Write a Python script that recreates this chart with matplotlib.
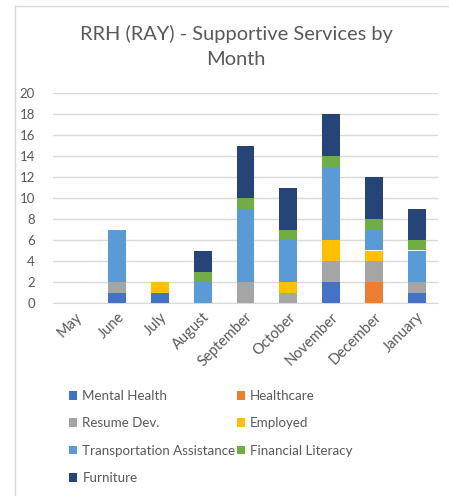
import matplotlib.pyplot as plt
import numpy as np

# months and service counts
months = ['May', 'June', 'July', 'August', 'September', 'October',
          'November', 'December', 'January']

mental_health = [0, 1, 1, 0, 0, 0, 2, 0, 1]
healthcare = [0, 0, 0, 0, 0, 0, 0, 2, 0]
resume_dev = [0, 1, 0, 0, 2, 1, 2, 2, 1]
employed = [0, 0, 1, 0, 0, 1, 2, 1, 0]
transportation = [0, 5, 0, 2, 7, 4, 7, 2, 3]
financial_lit = [0, 0, 0, 1, 1, 1, 1, 1, 1]
furniture = [0, 0, 0, 2, 5, 4, 4, 4, 3]

series = [
    ('Mental Health', mental_health, '#4472C4'),
    ('Healthcare', healthcare, '#ED7D31'),
    ('Resume Dev.', resume_dev, '#A5A5A5'),
    ('Employed', employed, '#FFC000'),
    ('Transportation Assistance', transportation, '#5B9BD5'),
    ('Financial Literacy', financial_lit, '#70AD47'),
    ('Furniture', furniture, '#264478'),
]

plt.rcParams['font.family'] = ['Lato', 'DejaVu Sans']
txt = '#595959'
grid = '#D9D9D9'

fig = plt.figure(figsize=(4.49, 4.96), dpi=100)
ax = fig.add_axes([53 / 449, 1 - 303 / 496, 385 / 449, 210 / 496])

x = np.arange(len(months))
bottom = np.zeros(len(months))
handles = {}
for name, vals, col in series:
    b = ax.bar(x, vals, width=0.42, bottom=bottom, color=col, label=name, zorder=3)
    handles[name] = b
    bottom += np.array(vals)

ax.set_ylim(0, 20)
ax.set_xlim(-0.5, len(months) - 0.5)
ax.set_yticks(range(0, 21, 2))
ax.yaxis.grid(True, color=grid, linewidth=1, zorder=0)
for s in ['top', 'right', 'left']:
    ax.spines[s].set_visible(False)
ax.spines['bottom'].set_color(grid)
ax.tick_params(axis='both', length=0, colors=txt)
ax.tick_params(axis='y', pad=13, labelsize=9.5)
ax.set_xticks(x)
ax.set_xticklabels(months, rotation=45, ha='right', rotation_mode='anchor')
ax.tick_params(axis='x', pad=5, labelsize=10.5)

fig.text(236 / 449, 1 - 46.5 / 496, 'RRH (RAY) - Supportive Services by\nMonth',
         ha='center', va='center', fontsize=14.4, color=txt, linespacing=1.6)

# legend filled row by row
order = ['Mental Health', 'Resume Dev.', 'Transportation Assistance', 'Furniture',
         'Healthcare', 'Employed', 'Financial Literacy']
leg = fig.legend([handles[n] for n in order], order, ncol=2,
                 loc='upper left', bbox_to_anchor=(57 / 449, 1 - 378 / 496),
                 frameon=False, fontsize=9.6, labelcolor=txt,
                 handlelength=0.6, handleheight=0.6, handletextpad=0.4,
                 columnspacing=0.1, labelspacing=1.15)

# chart frame (partly cut off at right and bottom)
fig.add_artist(plt.Line2D([15 / 449, 15 / 449], [0, 1 - 6 / 496],
                          color=grid, linewidth=1, transform=fig.transFigure))
fig.add_artist(plt.Line2D([15 / 449, 1], [1 - 6 / 496, 1 - 6 / 496],
                          color=grid, linewidth=1, transform=fig.transFigure))

fig.savefig('out.png', dpi=100)
